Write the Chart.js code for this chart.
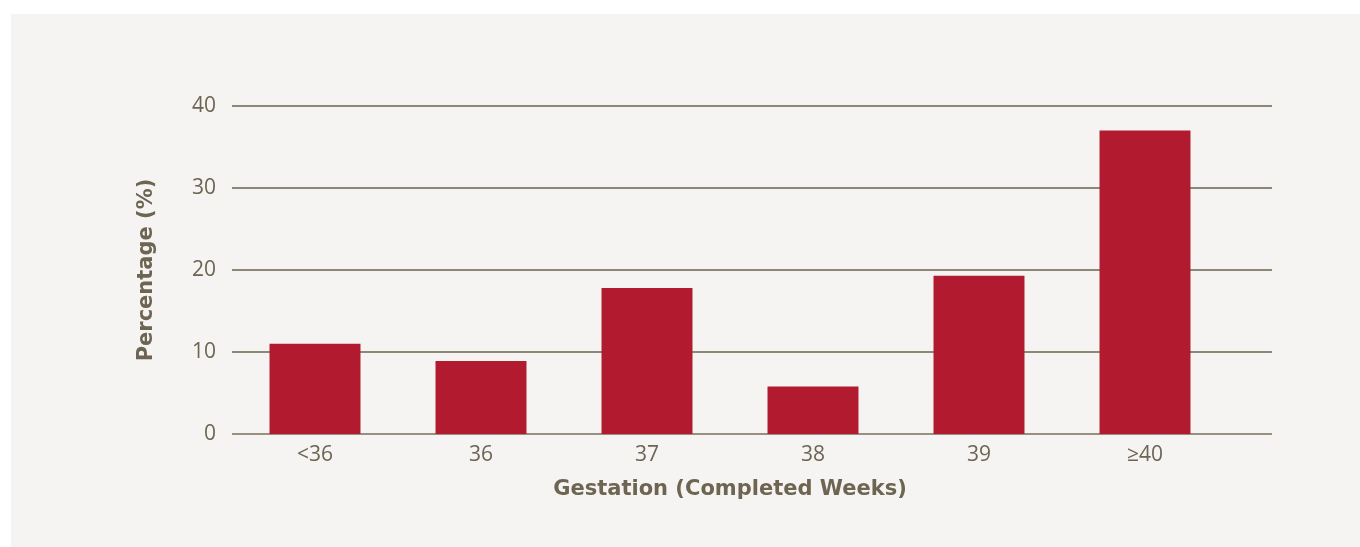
<!DOCTYPE html>
<html>
<head>
<meta charset="utf-8">
<script src="https://cdn.jsdelivr.net/npm/chart.js@4"></script>
<style>
  html, body { margin: 0; padding: 0; background: #ffffff; }
  #panel { position: absolute; left: 11px; top: 14px; width: 1349px; height: 533px; background: #f5f4f2; }
  #wrap { position: absolute; left: 0; top: 0; width: 1360px; height: 547px; }
</style>
</head>
<body>
<div id="panel"></div>
<div id="wrap"><canvas id="myChart" width="1360" height="547"></canvas></div>
<script>
// gestation categories and share of births
var categories = ["<36", "36", "37", "38", "39", "\u226540"];
var percentages = [11, 8.9, 17.8, 5.8, 19.3, 37];
var yTicks = [0, 10, 20, 30, 40];

var textColor = "#6d6452";
var gridColor = "#8e8676";

// grid lines run a bit past the last category, so draw them by hand
var extendGrid = {
  id: "extendGrid",
  beforeDatasetsDraw: function (chart) {
    var ctx = chart.ctx;
    var y = chart.scales.y;
    var area = chart.chartArea;
    ctx.save();
    ctx.lineWidth = 2;
    yTicks.forEach(function (v) {
      var py = Math.round(y.getPixelForValue(v));
      ctx.strokeStyle = v === 0 ? "#999082" : gridColor;
      ctx.beginPath();
      ctx.moveTo(area.left, py);
      ctx.lineTo(area.right + 44, py);
      ctx.stroke();
    });
    ctx.restore();
  },
};

var ctx = document.getElementById("myChart").getContext("2d");
var chart = new Chart(ctx, {
  type: "bar",
  data: {
    labels: categories,
    datasets: [
      {
        data: percentages,
        backgroundColor: "#b21b2f",
        borderWidth: 0,
        barPercentage: 0.548,
        categoryPercentage: 1,
      },
    ],
  },
  options: {
    responsive: false,
    animation: false,
    layout: { padding: { left: 0, right: 132, top: 106, bottom: 0 } },
    plugins: { legend: { display: false }, tooltip: { enabled: false } },
    scales: {
      x: {
        grid: { display: false, drawTicks: false },
        border: { display: false },
        ticks: {
          color: textColor,
          padding: 8,
          font: { family: "Open Sans", size: 21, weight: "normal" },
        },
        title: {
          display: true,
          text: "Gestation (Completed Weeks)",
          color: textColor,
          padding: { top: 0, bottom: 45 },
          font: { family: "DejaVu Sans", size: 21, weight: "bold" },
        },
        afterFit: function (scale) {
          scale.height = 113;
        },
      },
      y: {
        min: 0,
        max: 40,
        grid: { display: false, drawTicks: false },
        border: { display: false },
        ticks: {
          stepSize: 10,
          color: textColor,
          padding: 16,
          font: { family: "Open Sans", size: 21, weight: "normal" },
        },
        title: {
          display: true,
          text: "Percentage (%)",
          color: textColor,
          padding: { top: 134, bottom: 0 },
          font: { family: "DejaVu Sans", size: 21, weight: "bold" },
        },
        afterFit: function (scale) {
          scale.width = 232;
        },
      },
    },
  },
  plugins: [extendGrid],
});
</script>
</body>
</html>
